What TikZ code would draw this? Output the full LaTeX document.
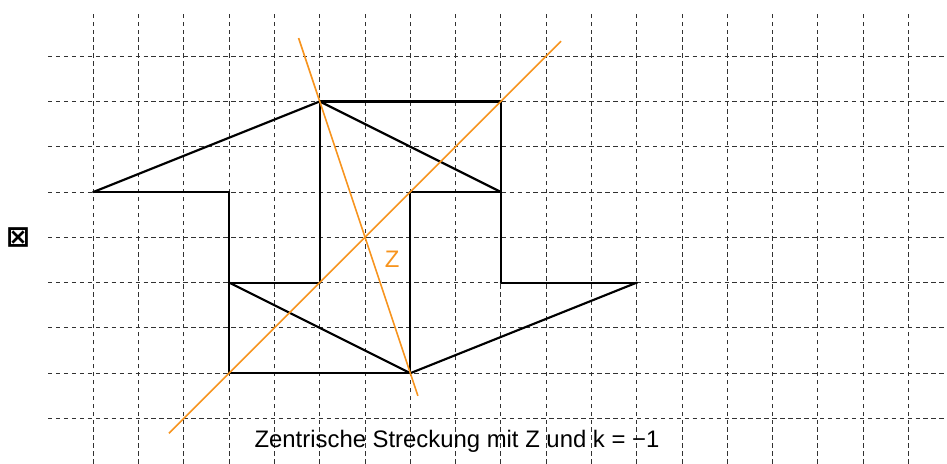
\documentclass[tikz,border=0pt]{standalone}
\usepackage{fontspec}
\setmainfont{Liberation Sans}
\newfontfamily\symfont{DejaVu Sans}
\usetikzlibrary{positioning,calc}
\definecolor{ZOrange}{RGB}{247,148,30}
\definecolor{GridGray}{RGB}{50,50,50}
\tikzset{
  gridline/.style={draw=GridGray,line width=0.6pt,dash pattern=on 2.8pt off 2.2pt},
  figline/.style={draw=black,line width=1.35pt,line cap=round,line join=round},
  zline/.style={draw=ZOrange,line width=1pt},
  lab/.style={font=\fontsize{15}{17}\selectfont,inner sep=0pt},
}

\begin{document}
\begin{tikzpicture}
\useasboundingbox (-1.06,0) rectangle (19.85,10.24);
\foreach \y in {1,...,9} \draw[gridline] (0,\y) -- (19.85,\y);
\foreach \x in {1,...,19} \draw[gridline] (\x,0) -- (\x,10);
\coordinate (pa) at (1,6);
\coordinate (pb) at (4,6);
\coordinate (pc) at (4,2);
\coordinate (pd) at (8,2);
\coordinate (pe) at (8,6);
\coordinate (pf) at (10,6);
\coordinate (pg) at (10,8);
\coordinate (ph) at (6,8);
\coordinate (pi) at (6,4);
\coordinate (pj) at (4,4);
\coordinate (pk) at (10,4);
\coordinate (pl) at (13,4);
\coordinate (z) at (7,5);
\coordinate (s1) at (5.533,9.4);
\coordinate (e1) at (8.167,1.5);
\coordinate (s2) at (2.67,0.67);
\coordinate (e2) at (11.33,9.33);
\draw[figline] (pa)--(ph);
\draw[figline] (pa)--(pb);
\draw[figline] (pb)--(pc);
\draw[figline] (pc)--(pd);
\draw[figline] (pj)--(pi);
\draw[figline] (pj)--(pd);
\draw[figline] (pi)--(ph);
\draw[figline] (ph)--(pg);
\draw[figline] (pg)--(pf);
\draw[figline] (ph)--(pf);
\draw[figline] (pe)--(pf);
\draw[figline] (pe)--(pd);
\draw[figline] (pf)--(pk);
\draw[figline] (pk)--(pl);
\draw[figline] (pl)--(pd);
\draw[zline] (s1)--(e1);
\draw[zline] (s2)--(e2);
\node[lab,text=ZOrange] (zlab) at (7.6,4.52) {Z};
\node[lab] (caption) at (9.03,0.5) {Zentrische Streckung mit Z und k = −1};
\node[inner sep=0pt,font=\symfont\bfseries\fontsize{18}{20}\selectfont] (boxsym) at (-0.66,5) {⊠};
\end{tikzpicture}
\end{document}
